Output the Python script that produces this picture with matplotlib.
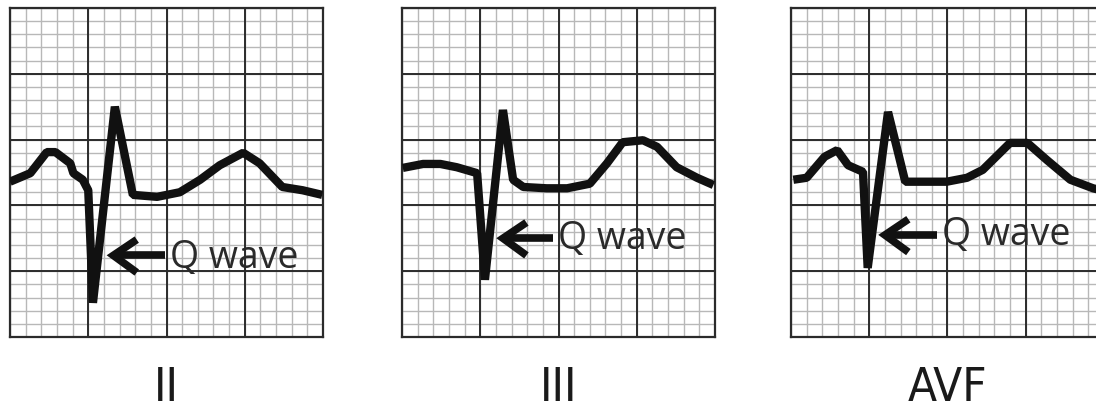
import matplotlib.pyplot as plt
import numpy as np

# trace points in major-grid units (x: 0..4, y: 0..5 from bottom)
lead2_x = [0.00, 0.26, 0.47, 0.58, 0.77, 0.81, 0.93, 1.00, 1.06, 1.34, 1.57, 1.88, 2.17, 2.43, 2.68, 2.98, 3.19, 3.48, 3.74, 3.99]
lead2_y = [2.36, 2.49, 2.81, 2.81, 2.64, 2.49, 2.39, 2.23, 0.52, 3.50, 2.16, 2.13, 2.20, 2.39, 2.61, 2.80, 2.64, 2.28, 2.23, 2.16]

lead3_x = [0.01, 0.27, 0.49, 0.70, 0.96, 1.06, 1.29, 1.42, 1.55, 1.85, 2.11, 2.40, 2.62, 2.82, 3.08, 3.26, 3.51, 3.77, 3.98]
lead3_y = [2.57, 2.63, 2.63, 2.58, 2.49, 0.87, 3.45, 2.39, 2.28, 2.26, 2.26, 2.33, 2.64, 2.96, 2.99, 2.89, 2.58, 2.42, 2.31]

avf_x = [0.03, 0.20, 0.43, 0.59, 0.73, 0.92, 0.98, 1.24, 1.46, 1.99, 2.25, 2.45, 2.80, 3.02, 3.27, 3.57, 3.86, 4.00]
avf_y = [2.39, 2.42, 2.74, 2.84, 2.61, 2.51, 1.05, 3.42, 2.36, 2.36, 2.42, 2.54, 2.95, 2.95, 2.69, 2.39, 2.26, 2.22]

lead_names = ["II", "III", "AVF"]
traces = [(lead2_x, lead2_y), (lead3_x, lead3_y), (avf_x, avf_y)]

# arrow tip, arrow tail, text start (x, y) for the "Q wave" note
arrow_tip = [(1.32, 1.24), (1.29, 1.50), (1.20, 1.55)]
arrow_tail = [(1.98, 1.24), (1.93, 1.50), (1.87, 1.55)]
note_pos = [(2.05, 1.05), (2.00, 1.33), (1.93, 1.40)]

W, H = 1096, 412
fig = plt.figure(figsize=(W / 100, H / 100), dpi=100)

panel_left = [10, 402, 791]
pw, ph = 313, 329
top = 8

for i in range(3):
    ax = fig.add_axes([panel_left[i] / W, (H - top - ph) / H, pw / W, ph / H])
    ax.set_xlim(0, 4)
    ax.set_ylim(0, 5)
    for v in np.arange(0, 4.01, 0.2):
        ax.axvline(v, color="#b8b8b8", lw=1.0, zorder=1)
    for v in np.arange(0, 5.01, 0.2):
        ax.axhline(v, color="#b8b8b8", lw=1.0, zorder=1)
    for v in range(1, 4):
        ax.axvline(v, color="#2b2b2b", lw=1.4, zorder=2)
    for v in range(1, 5):
        ax.axhline(v, color="#2b2b2b", lw=1.4, zorder=2)
    for s in ax.spines.values():
        s.set_color("#2b2b2b")
        s.set_linewidth(1.6)
    ax.set_xticks([])
    ax.set_yticks([])

    x, y = traces[i]
    ax.plot(x, y, color="#111111", lw=6.0, solid_joinstyle="bevel",
            solid_capstyle="butt", zorder=5)

    tx, ty = arrow_tip[i]
    bx, by = arrow_tail[i]
    ax.plot([bx, tx + 0.03], [by, ty], color="#111111", lw=5.5, zorder=5,
            solid_capstyle="butt")
    ax.plot([tx + 0.30, tx, tx + 0.30], [ty + 0.24, ty, ty - 0.26],
            color="#111111", lw=5.5, zorder=5, solid_joinstyle="miter",
            solid_capstyle="butt")
    nx, ny = note_pos[i]
    ax.text(nx, ny, "Q wave", fontsize=27, family=["Open Sans", "DejaVu Sans"],
            color="#2a2a2a", ha="left", va="baseline", zorder=6)

    fig.text((panel_left[i] + pw / 2) / W, 1 - 411 / H, lead_names[i],
             fontsize=34, family="DejaVu Sans", fontstretch="condensed",
             color="#1a1a1a", ha="center", va="bottom")

fig.savefig("out.png", dpi=100, facecolor="white")
